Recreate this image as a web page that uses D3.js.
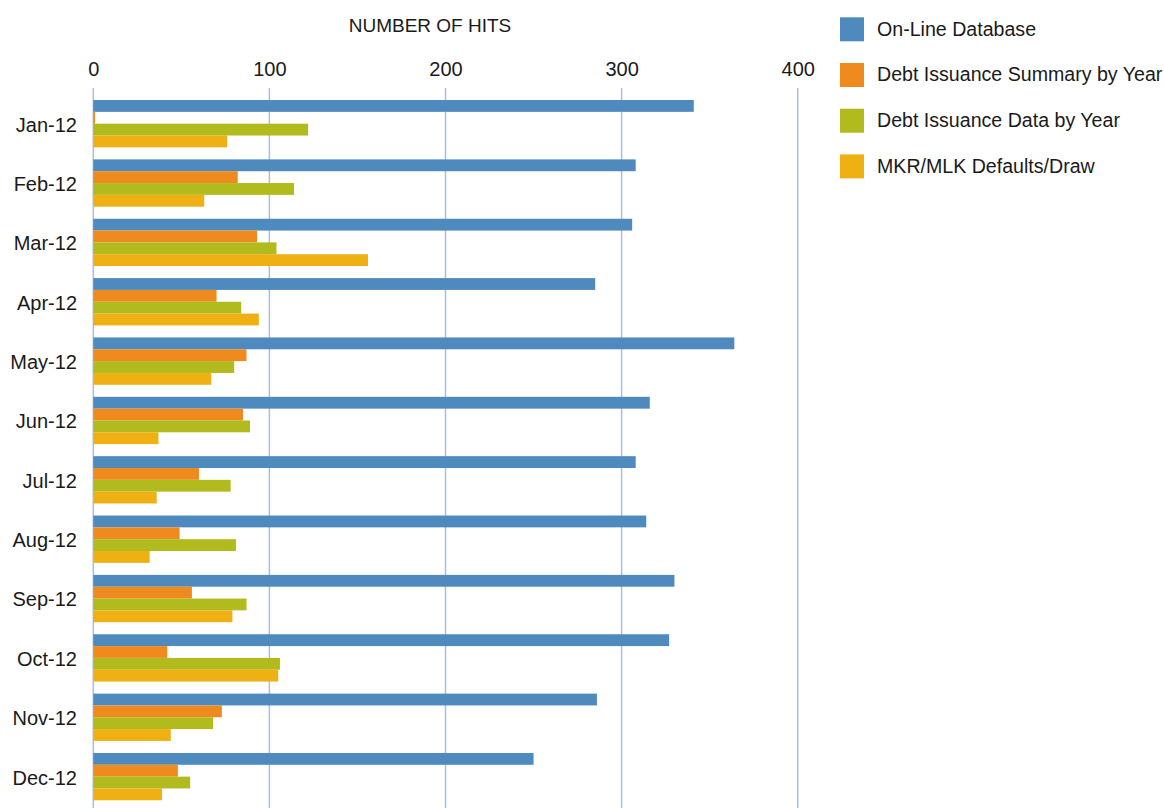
<!DOCTYPE html>
<html>
<head>
<meta charset="utf-8">
<script src="https://cdn.jsdelivr.net/npm/d3@7"></script>
<style>
  html, body { margin: 0; padding: 0; background: #ffffff; }
  svg { display: block; font-family: "Liberation Sans", Arial, Helvetica, sans-serif; }
</style>
</head>
<body>
<svg id="chart" width="1164" height="808"></svg>
<script>
const months = ["Jan-12","Feb-12","Mar-12","Apr-12","May-12","Jun-12","Jul-12","Aug-12","Sep-12","Oct-12","Nov-12","Dec-12"];
const seriesNames = ["On-Line Database","Debt Issuance Summary by Year","Debt Issuance Data by Year","MKR/MLK Defaults/Draw"];
const onlineDatabase   = [341, 308, 306, 285, 364, 316, 308, 314, 330, 327, 286, 250];
const summaryByYear    = [1, 82, 93, 70, 87, 85, 60, 49, 56, 42, 73, 48];
const dataByYear       = [122, 114, 104, 84, 80, 89, 78, 81, 87, 106, 68, 55];
const mkrMlkDefaults   = [76, 63, 156, 94, 67, 37, 36, 32, 79, 105, 44, 39];
const xTicks = [0, 100, 200, 300, 400];
const colors = ["#4e8abe", "#ee8a1e", "#b1bb1e", "#efb013"];

const seriesValues = [onlineDatabase, summaryByYear, dataByYear, mkrMlkDefaults];
const rows = months.map((m, i) => ({ month: m, values: seriesValues.map(s => s[i]) }));

const svg = d3.select("#chart");

const x = d3.scaleLinear().domain([0, 400]).range([93.3, 797.7]);
const y = d3.scaleBand().domain(months).range([94, 806.3]).paddingInner(0.203).paddingOuter(0.1015);
const ySub = d3.scaleBand().domain(d3.range(seriesNames.length)).range([0, y.bandwidth()]);

// gridlines
svg.append("g").selectAll("line").data(xTicks).join("line")
  .attr("x1", d => x(d)).attr("x2", d => x(d))
  .attr("y1", 88).attr("y2", 808)
  .attr("stroke", "#a9bedb").attr("stroke-width", 1.5);

// top axis tick labels
const xAxis = d3.axisTop(x).tickValues(xTicks).tickSize(0).tickPadding(0);
const gx = svg.append("g").attr("transform", "translate(0,76)").call(xAxis);
gx.select(".domain").remove();
gx.selectAll("text").attr("font-size", 20).attr("fill", "#1a1a1a")
  .attr("font-family", "'Liberation Sans', Arial, Helvetica, sans-serif")
  .attr("dy", 0);

// title
svg.append("text").attr("x", 430).attr("y", 32).attr("text-anchor", "middle")
  .attr("font-size", 19).attr("fill", "#1a1a1a").text("NUMBER OF HITS");

// bars
const groups = svg.append("g").selectAll("g").data(rows).join("g")
  .attr("transform", d => `translate(0,${y(d.month)})`);
groups.selectAll("rect").data(d => d.values.map((v, k) => ({ v, k }))).join("rect")
  .attr("x", x(0))
  .attr("y", d => ySub(d.k))
  .attr("width", d => x(d.v) - x(0))
  .attr("height", ySub.bandwidth())
  .attr("fill", d => colors[d.k]);

// category axis labels
const yAxis = d3.axisLeft(y).tickSize(0).tickPadding(0);
const gy = svg.append("g").attr("transform", "translate(77,1.5)").call(yAxis);
gy.select(".domain").remove();
gy.selectAll("text").attr("font-size", 20).attr("fill", "#1a1a1a")
  .attr("font-family", "'Liberation Sans', Arial, Helvetica, sans-serif");

// legend
const legend = svg.append("g").selectAll("g").data(seriesNames).join("g")
  .attr("transform", (d, i) => `translate(840,${17.3 + i * 45.7})`);
legend.append("rect").attr("width", 24).attr("height", 24).attr("fill", (d, i) => colors[i]);
legend.append("text").attr("x", 37).attr("y", 11.5).attr("dy", "0.35em")
  .attr("font-size", 19.6).attr("fill", "#1a1a1a").text(d => d);
</script>
</body>
</html>
